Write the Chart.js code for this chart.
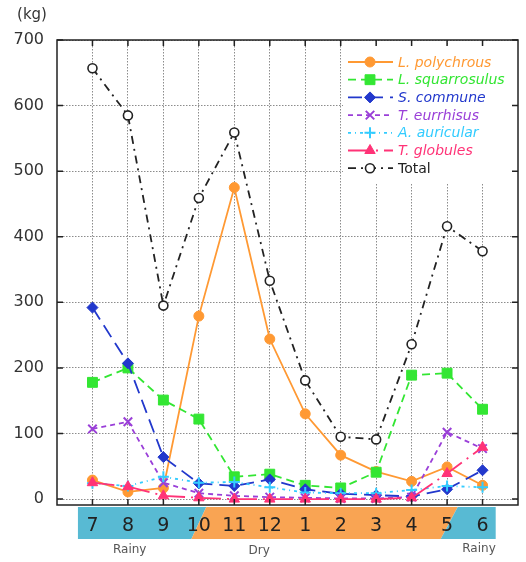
<!DOCTYPE html>
<html>
<head>
<meta charset="utf-8">
<script src="https://cdn.jsdelivr.net/npm/chart.js@4/dist/chart.umd.min.js"></script>
<style>
html,body{margin:0;padding:0;background:#fff;}
#wrap{width:526px;height:562px;position:relative;}
</style>
</head>
<body>
<div id="wrap"><canvas id="c" width="526" height="562"></canvas></div>
<script>
// ---- data ----
const months = ['7','8','9','10','11','12','1','2','3','4','5','6'];
const seriesNames = ['L. polychrous','L. squarrosulus','S. commune','T. eurrhisus','A. auricular','T. globules','Total'];
const polychrous   = [29, 11, 17, 279, 475, 244, 130, 67, 42, 27, 49, 21];
const squarrosulus = [178, 200, 151, 122, 34, 38, 21, 17, 41, 189, 192, 137];
const commune      = [292, 207, 64, 24, 20, 30, 15, 8, 6, 4, 15, 44];
const eurrhisus    = [107, 118, 25, 9, 5, 3, 2, 1, 1, 3, 102, 77];
const auricular    = [24, 20, 34, 25, 26, 18, 10, 9, 9, 14, 20, 18];
const globules     = [25, 19, 5, 2, 0, 0, 0, 0, 0, 2, 39, 79];
const total        = [657, 585, 295, 459, 559, 333, 181, 95, 91, 236, 416, 378];
const yTicks = [0,100,200,300,400,500,600,700];
const seasons = ['Rainy','Dry','Rainy'];

const values = [polychrous, squarrosulus, commune, eurrhisus, auricular, globules, total];
const styles = [
  {color:'#FF9933', dash:[], pointStyle:'circle', radius:5, fill:'#FF9933', bw:1},
  {color:'#33E633', dash:[8,5], pointStyle:'rect', radius:7, fill:'#33E633', bw:1},
  {color:'#2238CC', dash:[14,7], pointStyle:'rectRot', radius:5.5, fill:'#2238CC', bw:1},
  {color:'#9A3FD8', dash:[5,4], pointStyle:'crossRot', radius:6, fill:'#9A3FD8', bw:2},
  {color:'#33CCFF', dash:[3,4,1,4], pointStyle:'cross', radius:5.5, fill:'#33CCFF', bw:2},
  {color:'#FF3377', dash:[22,6,2,6], pointStyle:'triangle', radius:6, fill:'#FF3377', bw:1},
  {color:'#222222', dash:[8,5,2,5], pointStyle:'circle', radius:4.5, fill:'#FFFFFF', bw:1.6}
];

const datasets = values.map((arr, i) => ({
  label: seriesNames[i],
  data: arr.map((v, k) => ({x: k + 1, y: v})),
  borderColor: styles[i].color,
  backgroundColor: styles[i].fill,
  borderDash: styles[i].dash,
  borderWidth: 1.8,
  pointStyle: styles[i].pointStyle,
  pointRadius: styles[i].radius,
  pointBackgroundColor: styles[i].fill,
  pointBorderColor: styles[i].color,
  pointBorderWidth: styles[i].bw,
  tension: 0,
  fill: false,
  order: 10 - i
}));

const FONT = '"DejaVu Sans", sans-serif';

const decor = {
  id: 'decor',
  beforeDraw(chart) {
    const ctx = chart.ctx;
    const x = chart.scales.x;
    const top = 507, bot = 539;
    const px = v => x.getPixelForValue(v);
    ctx.save();
    ctx.fillStyle = '#58BAD3';
    ctx.beginPath();
    ctx.moveTo(px(0.59), top); ctx.lineTo(px(4.21), top); ctx.lineTo(px(3.79), bot); ctx.lineTo(px(0.59), bot);
    ctx.closePath(); ctx.fill();
    ctx.fillStyle = '#F9A453';
    ctx.beginPath();
    ctx.moveTo(px(4.21), top); ctx.lineTo(px(11.3), top); ctx.lineTo(px(10.82), bot); ctx.lineTo(px(3.79), bot);
    ctx.closePath(); ctx.fill();
    ctx.fillStyle = '#58BAD3';
    ctx.beginPath();
    ctx.moveTo(px(11.3), top); ctx.lineTo(px(12.37), top); ctx.lineTo(px(12.37), bot); ctx.lineTo(px(10.82), bot);
    ctx.closePath(); ctx.fill();
    ctx.fillStyle = '#555';
    ctx.font = '12px ' + FONT;
    ctx.textAlign = 'center';
    ctx.textBaseline = 'middle';
    ctx.fillText(seasons[0], px(2.05), 550);
    ctx.fillText(seasons[1], px(5.7), 551);
    ctx.fillText(seasons[2], px(11.9), 549);
    ctx.fillStyle = '#333';
    ctx.font = '15px ' + FONT;
    ctx.fillText('(kg)', 32, 15);
    ctx.restore();
  },
  afterDatasetsDraw(chart) {
    const ctx = chart.ctx;
    const a = chart.chartArea;
    const x = chart.scales.x, y = chart.scales.y;
    ctx.save();
    ctx.fillStyle = '#fff';
    ctx.fillRect(343, 45, 178, 139);
    ctx.strokeStyle = '#222';
    ctx.lineWidth = 1.5;
    ctx.setLineDash([]);
    ctx.strokeRect(a.left, a.top, a.right - a.left, a.bottom - a.top);
    yTicks.forEach(v => {
      const py = y.getPixelForValue(v);
      ctx.beginPath();
      ctx.moveTo(a.left, py); ctx.lineTo(a.left + 6, py);
      ctx.moveTo(a.right, py); ctx.lineTo(a.right - 6, py);
      ctx.stroke();
    });
    months.forEach((m, k) => {
      const pxx = x.getPixelForValue(k + 1);
      ctx.beginPath();
      ctx.moveTo(pxx, a.bottom); ctx.lineTo(pxx, a.bottom - 6);
      ctx.moveTo(pxx, a.top); ctx.lineTo(pxx, a.top + 6);
      ctx.stroke();
    });
    chart.data.datasets.forEach((ds, i) => {
      const ly = 62 + i * 17.7;
      ctx.save();
      ctx.strokeStyle = ds.borderColor;
      ctx.lineWidth = ds.borderWidth;
      ctx.setLineDash(ds.borderDash);
      ctx.beginPath();
      ctx.moveTo(348, ly); ctx.lineTo(393, ly);
      ctx.stroke();
      ctx.setLineDash([]);
      ctx.fillStyle = ds.pointBackgroundColor;
      ctx.strokeStyle = ds.pointBorderColor;
      ctx.lineWidth = ds.pointBorderWidth;
      Chart.helpers.drawPoint(ctx, {pointStyle: ds.pointStyle, radius: ds.pointRadius, rotation: 0, borderWidth: ds.pointBorderWidth}, 370, ly);
      ctx.restore();
      ctx.fillStyle = i === 6 ? '#222' : ds.borderColor;
      ctx.font = (i === 6 ? '' : 'italic ') + '14px ' + FONT;
      ctx.textAlign = 'left';
      ctx.textBaseline = 'middle';
      ctx.fillText(ds.label, 398, ly + 1);
    });
    ctx.restore();
  }
};

new Chart(document.getElementById('c'), {
  type: 'line',
  data: { datasets },
  plugins: [decor],
  options: {
    responsive: false,
    animation: false,
    devicePixelRatio: 1,
    layout: { padding: { top: 40, right: 3, left: 0, bottom: 0 } },
    plugins: { legend: { display: false }, tooltip: { enabled: false } },
    scales: {
      x: {
        type: 'linear',
        min: 0, max: 13,
        afterFit(s) { s.height = 57; },
        afterBuildTicks(s) { s.ticks = months.map((m, k) => ({value: k + 1})); },
        ticks: {
          autoSkip: false,
          maxRotation: 0,
          padding: 10,
          color: '#222',
          font: { family: FONT, size: 19 },
          callback: v => (v >= 1 && v <= 12) ? months[v - 1] : ''
        },
        grid: { color: '#8c8c8c', lineWidth: 1, drawTicks: false },
        border: { display: false, dash: [1.5, 1.5] }
      },
      y: {
        min: -9, max: 700,
        afterFit(s) { s.width = 57; },
        afterBuildTicks(s) { s.ticks = yTicks.map(v => ({value: v})); },
        ticks: {
          autoSkip: false,
          padding: 13,
          color: '#333',
          font: { family: FONT, size: 16 },
          callback: v => String(v)
        },
        grid: { color: '#8c8c8c', lineWidth: 1, drawTicks: false },
        border: { display: false, dash: [1.5, 1.5] }
      }
    }
  }
});
</script>
</body>
</html>
